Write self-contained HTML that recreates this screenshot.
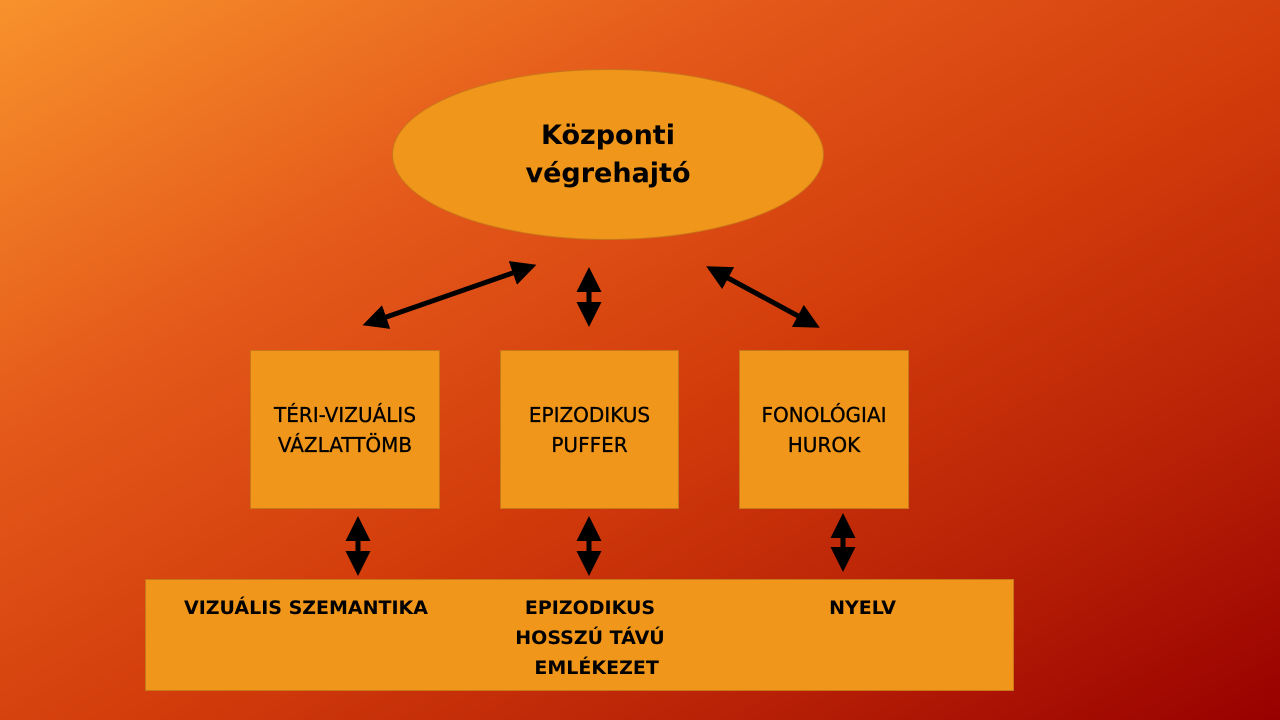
<!DOCTYPE html>
<html><head><meta charset="utf-8"><style>
body{margin:0;width:1280px;height:720px;overflow:hidden;position:relative;
background:linear-gradient(150deg,#f8922c 0%,#e4591a 30%,#d23c0b 55%,#b82106 78%,#980000 100%);
font-family:"DejaVu Sans","Liberation Sans",sans-serif;color:#111}
.b{position:absolute;background:#f0961a;border:1px solid #c8761a;box-sizing:border-box;display:flex;align-items:center;justify-content:center;text-align:center;font-size:20px;line-height:30px;color:#000;-webkit-text-stroke:0.3px #000}
.t{position:absolute;font-weight:bold;font-size:19px;line-height:30px;text-align:center;color:#000}
</style></head><body>
<div style="position:absolute;left:392px;top:69px;width:432px;height:171px;border-radius:50%;background:#f0961a;border:1px solid #c8761a;box-sizing:border-box;display:flex;align-items:center;justify-content:center;text-align:center;font-weight:bold;font-size:27px;line-height:38px;color:#000">Központi<br>végrehajtó</div>
<div class="b" style="left:250px;top:350px;width:190px;height:159px">TÉRI-VIZUÁLIS<br>VÁZLATTÖMB</div>
<div class="b" style="left:500px;top:350px;width:179px;height:159px">EPIZODIKUS<br>PUFFER</div>
<div class="b" style="left:739px;top:350px;width:170px;height:159px">FONOLÓGIAI<br>HUROK</div>
<div class="b" style="left:145px;top:579px;width:869px;height:112px"></div>
<div class="t" style="left:170px;top:593px;width:272px">VIZUÁLIS SZEMANTIKA</div>
<div class="t" style="left:480px;top:593px;width:220px">EPIZODIKUS<br>HOSSZÚ TÁVÚ<br>&nbsp;&nbsp;EMLÉKEZET</div>
<div class="t" style="left:790px;top:593px;width:145px">NYELV</div>
<svg width="1280" height="720" style="position:absolute;left:0;top:0">
<defs><marker id="a" markerWidth="5" markerHeight="5" refX="3" refY="2.5" orient="auto-start-reverse" markerUnits="strokeWidth"><path d="M0,0L5,2.5L0,5z" fill="#000"/></marker></defs>
<g stroke="#000" stroke-width="5" marker-start="url(#a)" marker-end="url(#a)">
<line x1="372" y1="322" x2="527" y2="268"/>
<line x1="589" y1="277" x2="589" y2="317"/>
<line x1="715" y1="271" x2="811" y2="323"/>
<line x1="358" y1="526" x2="358" y2="566"/>
<line x1="589" y1="526" x2="589" y2="566"/>
<line x1="843" y1="523" x2="843" y2="562"/>
</g></svg>
</body></html>
